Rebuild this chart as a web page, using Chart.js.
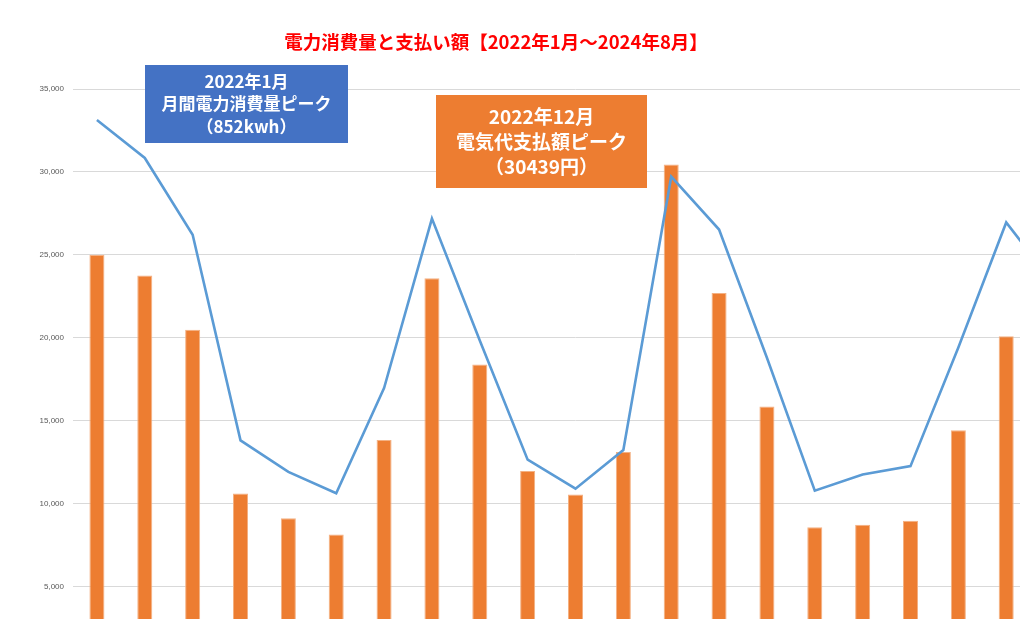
<!DOCTYPE html>
<html lang="ja">
<head>
<meta charset="utf-8">
<title>電力消費量と支払い額</title>
<script src="https://cdn.jsdelivr.net/npm/chart.js@4/dist/chart.umd.min.js"></script>
<style>
    html, body { margin: 0; padding: 0; background: #fff; overflow: hidden; }
    #wrap { width: 1020px; height: 619px; overflow: hidden; position: relative; }
    canvas { display: block; }
</style>
</head>
<body>
<div id="wrap">
    <canvas id="powerChart" width="1078" height="683" style="width:1078px;height:683px"></canvas>
</div>
<script>
// 2022年1月から（右端は画面外で切れている）
const months = [
    '2022年1月', '2022年2月', '2022年3月', '2022年4月', '2022年5月', '2022年6月',
    '2022年7月', '2022年8月', '2022年9月', '2022年10月', '2022年11月', '2022年12月',
    '2023年1月', '2023年2月', '2023年3月', '2023年4月', '2023年5月', '2023年6月',
    '2023年7月', '2023年8月', '2023年9月'
];

// 支払い額（円）
const payments = [
    25000, 23750, 20480, 10600, 9100, 8130,
    13820, 23590, 18380, 11950, 10540, 13100,
    30439, 22700, 15840, 8570, 8720, 8960,
    14410, 20080, null
];

// 電力消費量（kWh）
const usage = [
    852, 793, 674, 355, 306, 273,
    436, 699, 510, 325, 280, 340,
    764, 682, 483, 277, 302, 315,
    499, 693, 597
];

const yTicks = [5000, 10000, 15000, 20000, 25000, 30000, 35000];

const titleText = '電力消費量と支払い額【2022年1月～2024年8月】';
const usageNote = ['2022年1月', '月間電力消費量ピーク', '（852kwh）'];
const paymentNote = ['2022年12月', '電気代支払額ピーク', '（30439円）'];

const JP_FONT = '"Noto Sans CJK JP", "Noto Sans", sans-serif';

function drawNote(ctx, lines, box, color, size, gap) {
    ctx.save();
    ctx.fillStyle = color;
    ctx.fillRect(box.x, box.y, box.w, box.h);
    ctx.fillStyle = '#ffffff';
    ctx.font = `bold ${size}px ${JP_FONT}`;
    ctx.textAlign = 'center';
    ctx.textBaseline = 'middle';
    const cx = box.x + box.w / 2;
    const startY = box.y + box.h / 2 - gap * (lines.length - 1) / 2;
    lines.forEach((line, i) => ctx.fillText(line, cx, startY + i * gap));
    ctx.restore();
}

const overlayPlugin = {
    id: 'overlay',
    afterDraw(chart) {
        const ctx = chart.ctx;
        ctx.save();
        ctx.fillStyle = '#ff0000';
        ctx.font = `bold 18.5px ${JP_FONT}`;
        ctx.textAlign = 'center';
        ctx.textBaseline = 'middle';
        ctx.fillText(titleText, 496, 42);
        ctx.restore();

        drawNote(ctx, usageNote, { x: 145, y: 65, w: 203, h: 78 }, '#4472c4', 17, 22.5);
        drawNote(ctx, paymentNote, { x: 436, y: 95, w: 211, h: 93 }, '#ed7d31', 19, 25);
    }
};

function renderChart() {
    const ctx = document.getElementById('powerChart').getContext('2d');

    new Chart(ctx, {
        data: {
            labels: months,
            datasets: [
                {
                    type: 'line',
                    label: '電力消費量（kWh）',
                    data: usage,
                    yAxisID: 'y1',
                    borderColor: '#5b9bd5',
                    borderWidth: 2.6,
                    pointRadius: 0,
                    tension: 0,
                    fill: false,
                    order: 0
                },
                {
                    type: 'bar',
                    label: '支払い額（円）',
                    data: payments,
                    yAxisID: 'y',
                    backgroundColor: '#ed7d31',
                    borderColor: '#f4b183',
                    borderWidth: { left: 1, right: 1, top: 1, bottom: 0 },
                    categoryPercentage: 1,
                    barPercentage: 0.314,
                    order: 1
                }
            ]
        },
        options: {
            responsive: false,
            animation: false,
            layout: { padding: { top: 89, left: 0, right: 0, bottom: 0 } },
            plugins: {
                legend: { display: false },
                title: { display: false },
                tooltip: { enabled: false }
            },
            scales: {
                x: {
                    display: false,
                    offset: true,
                    grid: { display: false }
                },
                y: {
                    position: 'left',
                    min: 0,
                    max: 35000,
                    afterBuildTicks: (scale) => {
                        scale.ticks = yTicks.map(v => ({ value: v }));
                    },
                    afterFit: (scale) => { scale.width = 73; },
                    border: { display: false },
                    grid: { color: '#d9d9d9', lineWidth: 1, drawTicks: false },
                    ticks: {
                        padding: 9,
                        color: '#595959',
                        font: { family: '"Liberation Sans", Arial, sans-serif', size: 8 },
                        callback: (v) => Number(v).toLocaleString('en-US')
                    }
                },
                y1: {
                    display: false,
                    position: 'right',
                    min: 0,
                    max: 900,
                    grid: { display: false }
                }
            }
        },
        plugins: [overlayPlugin]
    });
}

document.addEventListener('DOMContentLoaded', renderChart);
</script>
</body>
</html>
